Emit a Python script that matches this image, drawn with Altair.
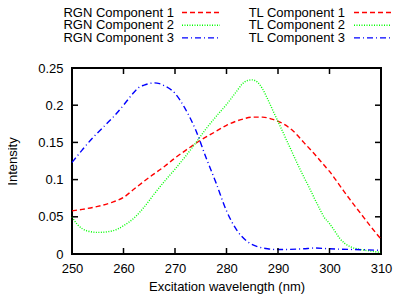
import altair as alt
import pandas as pd

# ---- data (RGN and TL components coincide) ----
components = ["Component 1", "Component 2", "Component 3"]
colors = ["#ff0000", "#00ff00", "#0000ff"]
dashes = [[5, 3], [1, 1.5], [6, 3, 1, 3]]

c1_wl = [250, 252, 255, 258, 260, 262, 265, 268, 270, 272, 275, 278, 280, 283, 285, 287,
         289, 291, 293, 295, 297, 299, 300, 302, 304, 306, 308, 310]
c1_val = [0.058, 0.060, 0.064, 0.070, 0.076, 0.087, 0.103, 0.118, 0.129, 0.139, 0.153, 0.165,
          0.173, 0.181, 0.184, 0.184, 0.181, 0.175, 0.165, 0.150, 0.135, 0.119, 0.111, 0.092,
          0.073, 0.055, 0.037, 0.020]

c2_wl = [250, 251, 252, 253, 255, 257, 259, 260, 262, 264, 266, 268, 270, 272, 274, 276, 278,
         280, 282, 283, 284, 285, 286, 287, 288, 289, 290, 292, 294, 296, 298, 299, 300, 301,
         302, 303, 304, 306, 308, 310]
c2_val = [0.050, 0.040, 0.034, 0.031, 0.029, 0.030, 0.034, 0.038, 0.048, 0.063, 0.081, 0.098,
          0.114, 0.131, 0.149, 0.168, 0.185, 0.201, 0.219, 0.228, 0.233, 0.234, 0.231, 0.222,
          0.208, 0.193, 0.178, 0.148, 0.118, 0.090, 0.062, 0.049, 0.041, 0.031, 0.021, 0.014,
          0.010, 0.006, 0.004, 0.002]

c3_wl = [250, 252, 254, 256, 258, 260, 262, 263, 264, 266, 267, 268, 270, 272, 274, 276, 278,
         280, 282, 284, 286, 288, 290, 295, 297, 300, 305, 310]
c3_val = [0.123, 0.140, 0.156, 0.170, 0.184, 0.200, 0.217, 0.224, 0.227, 0.230, 0.229, 0.226,
          0.216, 0.195, 0.167, 0.130, 0.095, 0.058, 0.032, 0.017, 0.010, 0.007, 0.006, 0.007,
          0.008, 0.007, 0.006, 0.005]

x_ticks = [250, 260, 270, 280, 290, 300, 310]
y_ticks = [0, 0.05, 0.1, 0.15, 0.2, 0.25]

legend_labels = ["RGN Component 1", "RGN Component 2", "RGN Component 3",
                 "TL Component 1", "TL Component 2", "TL Component 3"]
legend_comp = components + components
legend_col = [0, 0, 0, 1, 1, 1]
legend_row = [0, 1, 2, 0, 1, 2]

# ---- build tables ----
rows = []
for comp, wl, val in zip(components, [c1_wl, c2_wl, c3_wl], [c1_val, c2_val, c3_val]):
    for w, v in zip(wl, val):
        rows.append({"comp": comp, "wl": w, "val": v})
df = pd.DataFrame(rows)

FONT = "Liberation Sans"
W, H = 309, 186
xs = alt.Scale(domain=[250, 310], nice=False, zero=False)
ys = alt.Scale(domain=[0, 0.25], nice=False, zero=False)
cs = alt.Scale(domain=components, range=colors)
ds = alt.Scale(domain=components, range=dashes)

x_axis = alt.Axis(values=x_ticks, format="d", title="Excitation wavelength (nm)",
                  grid=False, ticks=False, domain=False, labelPadding=8, titlePadding=5,
                  labelFlush=False, labelOverlap=False)
y_axis = alt.Axis(values=y_ticks, format="~g", title="Intensity",
                  grid=False, ticks=False, domain=False, labelPadding=9, titlePadding=18,
                  labelFlush=False, labelOverlap=False)

curves = alt.Chart(df).mark_line(strokeWidth=1.4, interpolate="monotone").encode(
    x=alt.X("wl:Q", scale=xs, axis=x_axis),
    y=alt.Y("val:Q", scale=ys, axis=y_axis),
    color=alt.Color("comp:N", scale=cs, legend=None),
    strokeDash=alt.StrokeDash("comp:N", scale=ds, legend=None),
)

tick_len_y = 6 / H * 0.25
tick_len_x = 6 / W * 60
xt = pd.DataFrame({"wl": x_ticks})
yt = pd.DataFrame({"val": y_ticks})

bottom_ticks = alt.Chart(xt).transform_calculate(
    v0="0", v1=str(tick_len_y)).mark_rule(color="black", strokeWidth=1.5).encode(
    x=alt.X("wl:Q", scale=xs, axis=x_axis), y=alt.Y("v0:Q", scale=ys, axis=y_axis), y2="v1:Q")
top_ticks = alt.Chart(xt).transform_calculate(
    v0="0.25", v1=str(0.25 - tick_len_y)).mark_rule(color="black", strokeWidth=1.5).encode(
    x=alt.X("wl:Q", scale=xs, axis=x_axis), y=alt.Y("v0:Q", scale=ys, axis=y_axis), y2="v1:Q")
left_ticks = alt.Chart(yt).transform_calculate(
    w0="250", w1=str(250 + tick_len_x)).mark_rule(color="black", strokeWidth=1.5).encode(
    y=alt.Y("val:Q", scale=ys, axis=y_axis), x=alt.X("w0:Q", scale=xs, axis=x_axis), x2="w1:Q")
right_ticks = alt.Chart(yt).transform_calculate(
    w0="310", w1=str(310 - tick_len_x)).mark_rule(color="black", strokeWidth=1.5).encode(
    y=alt.Y("val:Q", scale=ys, axis=y_axis), x=alt.X("w0:Q", scale=xs, axis=x_axis), x2="w1:Q")

main = alt.layer(curves, bottom_ticks, top_ticks, left_ticks, right_ticks)

# ---- manual gnuplot-style key (label left, sample right) ----
leg = pd.DataFrame({"label": legend_labels, "comp": legend_comp,
                    "col": legend_col, "row": legend_row})
lx = alt.Scale(domain=[0, W], nice=False, zero=False)
ly = alt.Scale(domain=[0, H], nice=False, zero=False, reverse=True)
leg_base = alt.Chart(leg).transform_calculate(
    tx="datum.col == 0 ? 102 : 273",
    lx1="datum.col == 0 ? 110 : 282",
    lx2="datum.col == 0 ? 148 : 319",
    ty="-55.5 + datum.row * 12.7",
)
leg_text = leg_base.mark_text(align="right", baseline="middle", font=FONT, fontSize=13,
                              color="black").encode(
    x=alt.X("tx:Q", scale=lx, axis=None), y=alt.Y("ty:Q", scale=ly, axis=None), text="label:N")
leg_line = leg_base.mark_rule(strokeWidth=1.4).encode(
    x=alt.X("lx1:Q", scale=lx, axis=None), x2="lx2:Q",
    y=alt.Y("ty:Q", scale=ly, axis=None),
    color=alt.Color("comp:N", scale=cs, legend=None),
    strokeDash=alt.StrokeDash("comp:N", scale=ds, legend=None),
)
legend = alt.layer(leg_text, leg_line)

chart = alt.layer(main, legend).resolve_scale(x="independent", y="independent").properties(
    width=W, height=H,
    autosize=alt.AutoSizeParams(type="none"),
    padding={"left": 64, "top": 60, "right": 16, "bottom": 41},
).configure_view(stroke="black", strokeWidth=2).configure_axis(
    labelFont=FONT, labelFontSize=13, labelColor="black",
    titleFont=FONT, titleFontSize=13, titleFontWeight="normal", titleColor="black",
)

chart.save("out.html", embed_options={"renderer": "svg", "actions": False})
